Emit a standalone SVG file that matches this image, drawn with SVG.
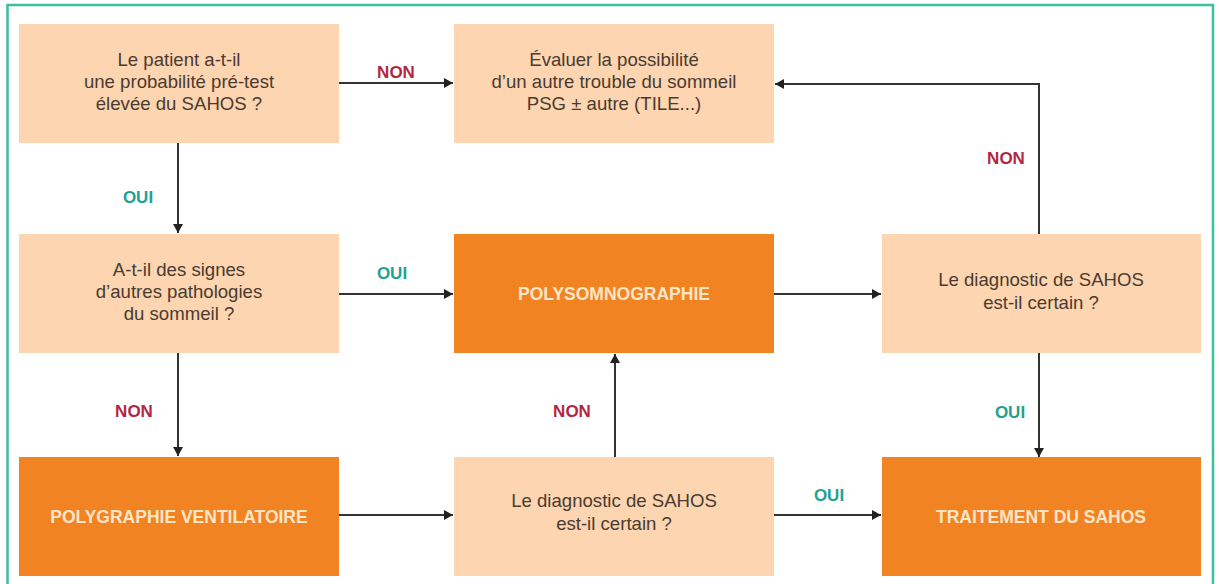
<svg xmlns="http://www.w3.org/2000/svg" width="1219" height="584" viewBox="0 0 1219 584">
<style>
.q{fill:#fdd5b1}
.o{fill:#f28322}
.t{font-family:"Liberation Sans",Arial,sans-serif;font-size:18.6px;fill:#4a3b30;text-anchor:middle}
.b{font-family:"Liberation Sans",Arial,sans-serif;font-size:17.5px;font-weight:bold;fill:#fde6c8;text-anchor:middle}
.no{font-family:"Liberation Sans",Arial,sans-serif;font-size:17px;font-weight:bold;fill:#b3263f;text-anchor:middle}
.yes{font-family:"Liberation Sans",Arial,sans-serif;font-size:17px;font-weight:bold;fill:#1fa192;text-anchor:middle}
.c{fill:none;stroke:#333;stroke-width:2}
</style>
<defs>
<marker id="ah" markerWidth="10" markerHeight="10" refX="9" refY="5" orient="auto" markerUnits="userSpaceOnUse">
<path d="M0,0 L9,5 L0,10 Z" fill="#222"/>
</marker>
</defs>
<rect width="1219" height="584" fill="#ffffff"/>
<rect x="7.5" y="5" width="1205.5" height="590" fill="none" stroke="#3bbf9c" stroke-width="2.5"/>

<g id="n1"><rect class="q" x="19" y="24" width="320" height="119"/>
<text class="t" x="179" y="66">Le patient a-t-il</text>
<text class="t" x="179" y="88">une probabilité pré-test</text>
<text class="t" x="179" y="110">élevée du SAHOS ?</text></g>

<g id="n2"><rect class="q" x="454" y="24" width="320" height="119"/>
<text class="t" x="614" y="66">Évaluer la possibilité</text>
<text class="t" x="614" y="88">d’un autre trouble du sommeil</text>
<text class="t" x="614" y="110">PSG ± autre (TILE...)</text></g>

<g id="n3"><rect class="q" x="19" y="234" width="320" height="119"/>
<text class="t" x="179" y="276">A-t-il des signes</text>
<text class="t" x="179" y="298">d’autres pathologies</text>
<text class="t" x="179" y="320">du sommeil ?</text></g>

<g id="n4"><rect class="o" x="454" y="234" width="320" height="119"/>
<text class="b" x="614" y="300">POLYSOMNOGRAPHIE</text></g>

<g id="n5"><rect class="q" x="882" y="234" width="319" height="119"/>
<text class="t" x="1041" y="286">Le diagnostic de SAHOS</text>
<text class="t" x="1041" y="309">est-il certain ?</text></g>

<g id="n6"><rect class="o" x="19" y="457" width="320" height="119"/>
<text class="b" x="179" y="523">POLYGRAPHIE VENTILATOIRE</text></g>

<g id="n7"><rect class="q" x="454" y="457" width="320" height="119"/>
<text class="t" x="614" y="507">Le diagnostic de SAHOS</text>
<text class="t" x="614" y="530">est-il certain ?</text></g>

<g id="n8"><rect class="o" x="882" y="457" width="319" height="119"/>
<text class="b" x="1041" y="523">TRAITEMENT DU SAHOS</text></g>

<g id="connectors">
<path class="c" d="M339,83 H453" marker-end="url(#ah)"/>
<path class="c" d="M178,143 V233" marker-end="url(#ah)"/>
<path class="c" d="M339,294 H453" marker-end="url(#ah)"/>
<path class="c" d="M178,353 V456" marker-end="url(#ah)"/>
<path class="c" d="M774,294 H881" marker-end="url(#ah)"/>
<path class="c" d="M1039,234 V84 H775" marker-end="url(#ah)"/>
<path class="c" d="M1039,353 V457" marker-end="url(#ah)"/>
<path class="c" d="M339,515 H453" marker-end="url(#ah)"/>
<path class="c" d="M615,457 V354" marker-end="url(#ah)"/>
<path class="c" d="M774,515 H881" marker-end="url(#ah)"/>
<text class="no" x="396" y="78">NON</text>
<text class="yes" x="138" y="203">OUI</text>
<text class="yes" x="392" y="279">OUI</text>
<text class="no" x="134" y="417">NON</text>
<text class="no" x="572" y="417">NON</text>
<text class="yes" x="829" y="501">OUI</text>
<text class="yes" x="1010" y="418">OUI</text>
<text class="no" x="1006" y="164">NON</text>
</g>
</svg>
